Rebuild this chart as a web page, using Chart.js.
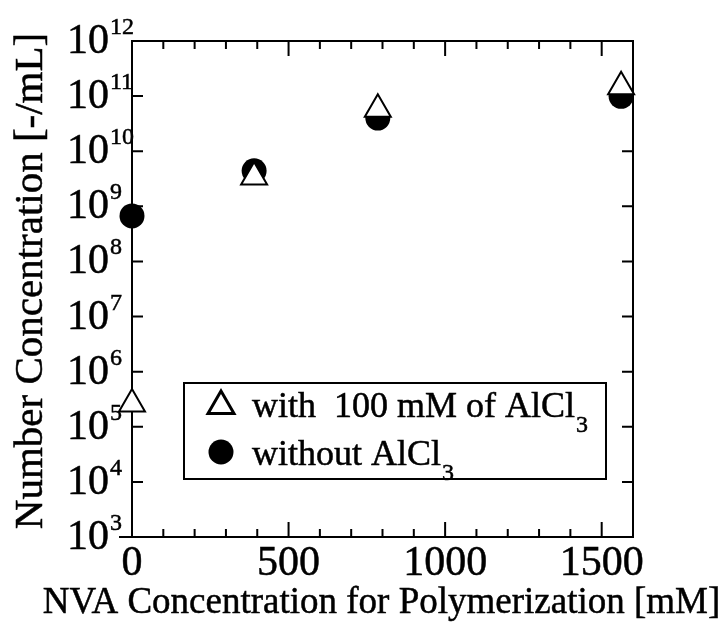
<!DOCTYPE html>
<html>
<head>
<meta charset="utf-8">
<script src="https://cdn.jsdelivr.net/npm/chart.js@4.4.1/dist/chart.umd.min.js"></script>
<style>
  html, body { margin: 0; padding: 0; background: #fff; }
  #wrap { width: 722px; height: 625px; }
</style>
</head>
<body>
<div id="wrap"><canvas id="chart"></canvas></div>
<script>
// NVA concentration [mM] and number concentration [-/mL]
const nvaWith = [0, 390, 785, 1562];
const countWith = [2.6e5, 3.4e9, 5.8e10, 1.48e11];
const nvaWithout = [0, 390, 785, 1562];
const countWithout = [6.7e8, 4.4e9, 4.0e10, 9.9e10];

const seriesNames = ["with  100 mM of AlCl", "without AlCl"];
const seriesSub = ["3", "3"];

const xTickLabels = [0, 500, 1000, 1500];
const xMinorTicks = [0, 100, 200, 300, 400, 500, 600, 700, 800, 900, 1000, 1100, 1200, 1300, 1400, 1500, 1600];
const yExponents = [3, 4, 5, 6, 7, 8, 9, 10, 11, 12];

const xTitle = "NVA Concentration for Polymerization [mM]";
const yTitle = "Number Concentration [-/mL]";

const serif = "'Liberation Serif', 'Times New Roman', serif";

function toPoints(xs, ys) {
  return xs.map((x, i) => ({ x: x, y: ys[i] }));
}

function triangle(ctx, x, y, r) {
  ctx.beginPath();
  ctx.moveTo(x, y - r);
  ctx.lineTo(x + r * Math.cos(Math.PI / 6), y + r / 2);
  ctx.lineTo(x - r * Math.cos(Math.PI / 6), y + r / 2);
  ctx.closePath();
}

// text with a hairline stroke, the scanned figure looks a bit heavy
function text(ctx, str, x, y) {
  ctx.fillText(str, x, y);
  ctx.strokeText(str, x, y);
}

// frame, inward ticks and labels drawn under the points
const axesPlugin = {
  id: "axesPlugin",
  beforeDatasetsDraw(chart) {
    const ctx = chart.ctx;
    const area = chart.chartArea;
    const xs = chart.scales.x;
    const ys = chart.scales.y;

    ctx.save();
    ctx.strokeStyle = "#000";
    ctx.lineWidth = 2;
    ctx.strokeRect(area.left, area.top, area.right - area.left, area.bottom - area.top);
    // small stub of the x axis to the left
    ctx.beginPath();
    ctx.moveTo(area.left - 13, area.bottom);
    ctx.lineTo(area.left, area.bottom);
    ctx.stroke();

    // x ticks top and bottom
    xMinorTicks.forEach((v) => {
      const px = xs.getPixelForValue(v);
      const len = v % 500 === 0 ? 15 : 8;
      ctx.beginPath();
      ctx.moveTo(px, area.bottom);
      ctx.lineTo(px, area.bottom - len);
      ctx.moveTo(px, area.top);
      ctx.lineTo(px, area.top + len);
      ctx.stroke();
    });

    // y ticks left and right
    yExponents.forEach((e) => {
      const py = ys.getPixelForValue(Math.pow(10, e));
      ctx.beginPath();
      ctx.moveTo(area.left, py);
      ctx.lineTo(area.left + 11, py);
      ctx.moveTo(area.right, py);
      ctx.lineTo(area.right - 11, py);
      ctx.stroke();
    });

    ctx.fillStyle = "#000";
    ctx.lineWidth = 0.5;
    // x labels
    ctx.font = "42px " + serif;
    ctx.textAlign = "center";
    ctx.textBaseline = "alphabetic";
    xTickLabels.forEach((v) => {
      text(ctx, String(v), xs.getPixelForValue(v), area.bottom + 38);
    });

    // y labels 10^n
    yExponents.forEach((e) => {
      const py = ys.getPixelForValue(Math.pow(10, e));
      ctx.font = "42px " + serif;
      ctx.textAlign = "right";
      text(ctx, "10", area.left - 23, py + 12);
      ctx.font = "24px " + serif;
      ctx.textAlign = "left";
      text(ctx, String(e), area.left - 22, py - 7);
    });

    // axis titles
    ctx.font = "37px " + serif;
    ctx.textAlign = "center";
    text(ctx, xTitle, (area.left + area.right) / 2 - 1, area.bottom + 76);

    ctx.save();
    ctx.translate(42, (area.top + area.bottom) / 2 - 8);
    ctx.rotate(-Math.PI / 2);
    ctx.font = "41px " + serif;
    text(ctx, yTitle, 0, 0);
    ctx.restore();

    ctx.restore();
  },
  afterDatasetsDraw(chart) {
    const ctx = chart.ctx;
    const area = chart.chartArea;
    const bx = area.left + 52;
    const by = area.top + 342;
    const bw = 422;
    const bh = 96;

    ctx.save();
    ctx.fillStyle = "#fff";
    ctx.fillRect(bx, by, bw, bh);
    ctx.strokeStyle = "#000";
    ctx.lineWidth = 2;
    ctx.strokeRect(bx, by, bw, bh);

    // markers
    ctx.lineWidth = 3;
    triangle(ctx, bx + 37, by + 23, 15);
    ctx.fillStyle = "#fff";
    ctx.fill();
    ctx.stroke();
    ctx.beginPath();
    ctx.arc(bx + 37, by + 69, 12.5, 0, Math.PI * 2);
    ctx.fillStyle = "#000";
    ctx.fill();

    // texts with subscript
    ctx.lineWidth = 0.5;
    const rows = [by + 34, by + 82];
    seriesNames.forEach((name, i) => {
      ctx.font = "36px " + serif;
      ctx.textAlign = "left";
      ctx.textBaseline = "alphabetic";
      text(ctx, name, bx + 68, rows[i]);
      const w = ctx.measureText(name).width;
      ctx.font = "24px " + serif;
      text(ctx, seriesSub[i], bx + 68 + w + 1, rows[i] + 15);
    });
    ctx.restore();
  },
};

new Chart(document.getElementById("chart"), {
  type: "scatter",
  data: {
    datasets: [
      {
        label: seriesNames[0] + seriesSub[0],
        data: toPoints(nvaWith, countWith),
        pointStyle: "triangle",
        pointRadius: 15,
        pointBackgroundColor: "#fff",
        pointBorderColor: "#000",
        pointBorderWidth: 2,
        clip: false,
      },
      {
        label: seriesNames[1] + seriesSub[1],
        data: toPoints(nvaWithout, countWithout),
        pointStyle: "circle",
        pointRadius: 12.5,
        pointBackgroundColor: "#000",
        pointBorderColor: "#000",
        pointBorderWidth: 0,
        clip: false,
      },
    ],
  },
  options: {
    responsive: true,
    maintainAspectRatio: false,
    animation: false,
    layout: {
      padding: { left: 132, right: 89, top: 41, bottom: 88 },
    },
    plugins: {
      legend: { display: false },
      tooltip: { enabled: false },
    },
    scales: {
      x: { type: "linear", min: 0, max: 1600, display: false },
      y: { type: "logarithmic", min: 1e3, max: 1e12, display: false },
    },
  },
  plugins: [axesPlugin],
});
</script>
</body>
</html>
